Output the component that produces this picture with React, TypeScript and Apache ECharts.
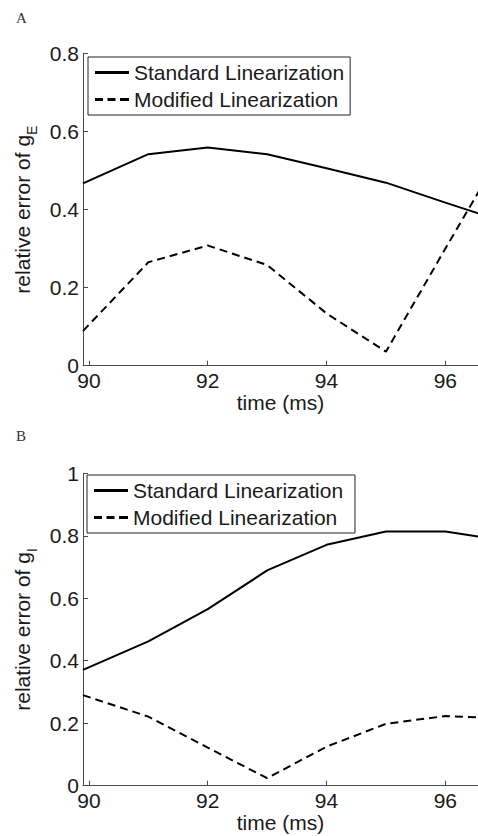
import React, { useEffect, useRef } from "react";
import * as echarts from "echarts";

// Panel A: relative error of g_E
const timeA_std = [89.9, 91, 92, 93, 94, 95, 96, 97];
const stdA = [0.467, 0.542, 0.559, 0.542, 0.506, 0.469, 0.418, 0.368];
const timeA_mod = [89.9, 91, 92, 93, 94, 95, 96, 97];
const modA = [0.089, 0.265, 0.308, 0.258, 0.134, 0.036, 0.3, 0.56];

// Panel B: relative error of g_I
const timeB = [89.9, 91, 92, 93, 94, 95, 96, 97];
const stdB = [0.371, 0.462, 0.565, 0.689, 0.771, 0.814, 0.814, 0.785];
const modB = [0.29, 0.221, 0.122, 0.024, 0.125, 0.198, 0.223, 0.215];

const xTicks = [90, 92, 94, 96];
const yTicksA = [0, 0.2, 0.4, 0.6, 0.8];
const yTicksB = [0, 0.2, 0.4, 0.6, 0.8, 1];
const legendNames = ["Standard Linearization", "Modified Linearization"];

const FONT = "'Liberation Sans', Arial, sans-serif";
const TXT = "#1a1a1a";
const AX = "#4a4a4a";

const pairs = (xs: number[], ys: number[]) => xs.map((x, i) => [x, ys[i]]);

const SOLID_ICON = "path://M0,0H34V3H0Z";
const DASH_ICON = "path://M0,0H8V3H0Z M12.5,0H20.5V3H12.5Z M25,0H34V3H25Z";

export default function App() {
  const ref = useRef<HTMLDivElement>(null);
  useEffect(() => {
    if (!ref.current) return;
    const chart = echarts.init(ref.current, undefined, { renderer: "svg" });

    const xAxisCommon = (gridIndex: number) => ({
      type: "value",
      gridIndex,
      min: 89.9,
      max: 96.55,
      name: "time (ms)",
      nameLocation: "middle",
      nameGap: 23,
      nameTextStyle: { fontFamily: FONT, fontSize: 21, color: TXT },
      axisLine: { show: true, lineStyle: { color: AX, width: 1 } },
      axisTick: { show: true, inside: true, length: 5, customValues: xTicks, lineStyle: { color: AX } },
      axisLabel: {
        fontFamily: FONT,
        fontSize: 21,
        color: TXT,
        margin: 4,
        customValues: xTicks,
      },
      splitLine: { show: false },
    });

    const yAxisCommon = (gridIndex: number, max: number, sub: string, ticks: number[]) => ({
      type: "value",
      gridIndex,
      min: 0,
      max,
      interval: 0.2,
      name: "relative error of g{sub|" + sub + "}",
      nameLocation: "middle",
      nameGap: 38,
      nameTextStyle: {
        fontFamily: FONT,
        fontSize: 21,
        color: TXT,
        rich: {
          sub: { fontFamily: FONT, fontSize: 14, color: TXT, padding: [18, 0, 0, 0] },
        },
      },
      axisLine: { show: true, lineStyle: { color: AX, width: 1 } },
      axisTick: { show: true, inside: true, length: 5, customValues: ticks, lineStyle: { color: AX } },
      axisLabel: {
        fontFamily: FONT,
        fontSize: 21,
        color: TXT,
        margin: 4,
        customValues: ticks,
        formatter: (v: number) => String(Math.round(v * 10) / 10),
      },
      splitLine: { show: false },
    });

    const lineSeries = (name: string, xi: number, data: number[][], dashed: boolean) => ({
      name,
      type: "line",
      xAxisIndex: xi,
      yAxisIndex: xi,
      data,
      symbol: "none",
      clip: true,
      color: "#000",
      lineStyle: { color: "#000", width: 2, type: dashed ? [8, 5] : "solid" },
    });

    const legendCommon = (left: number, top: number) => ({
      left,
      top,
      orient: "vertical",
      itemWidth: 34,
      itemHeight: 3,
      itemGap: 6,
      itemTextGap: 5,
      padding: [5, 6, 5, 7],
      borderColor: "#222",
      borderWidth: 1,
      backgroundColor: "#fff",
      textStyle: { fontFamily: FONT, fontSize: 21, color: TXT, lineHeight: 21 },
    });

    const serif = "'Liberation Serif', 'DejaVu Serif', serif";
    const option: any = {
      animation: false,
      backgroundColor: "#fff",
      title: [
        {
          text: "A",
          left: 11,
          top: 5,
          textStyle: { fontFamily: serif, fontSize: 15, fontWeight: "normal", color: "#333" },
        },
        {
          text: "B",
          left: 11,
          top: 423,
          textStyle: { fontFamily: serif, fontSize: 15, fontWeight: "normal", color: "#333" },
        },
      ],
      legend: [
        {
          ...legendCommon(88, 57),
          data: [
            { name: legendNames[0], icon: SOLID_ICON },
            { name: legendNames[1], icon: DASH_ICON },
          ],
        },
        {
          ...legendCommon(87, 475),
          data: [
            { name: legendNames[0] + " ", icon: SOLID_ICON },
            { name: legendNames[1] + " ", icon: DASH_ICON },
          ],
        },
      ],
      grid: [
        { left: 83, top: 53.5, width: 395, height: 312.2 },
        { left: 83, top: 473.3, width: 395, height: 312.4 },
      ],
      xAxis: [xAxisCommon(0), xAxisCommon(1)],
      yAxis: [yAxisCommon(0, 0.8, "E", yTicksA), yAxisCommon(1, 1, "I", yTicksB)],
      series: [
        lineSeries(legendNames[0], 0, pairs(timeA_std, stdA), false),
        lineSeries(legendNames[1], 0, pairs(timeA_mod, modA), true),
        lineSeries(legendNames[0] + " ", 1, pairs(timeB, stdB), false),
        lineSeries(legendNames[1] + " ", 1, pairs(timeB, modB), true),
      ],
    };
    chart.setOption(option);
    return () => chart.dispose();
  }, []);
  return (
    <div
      ref={ref}
      style={{ position: "fixed", left: 0, top: 0, width: 478, height: 836, background: "#fff" }}
    />
  );
}
